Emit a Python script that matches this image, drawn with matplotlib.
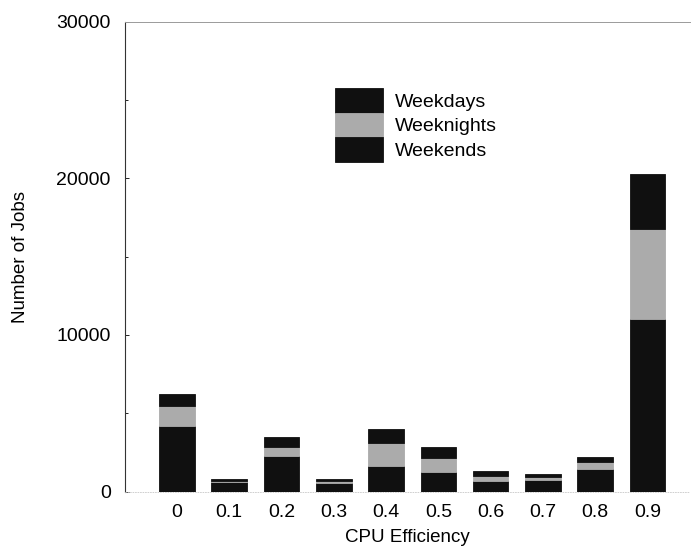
import matplotlib.pyplot as plt
from matplotlib.ticker import MultipleLocator
import numpy as np

plt.rcParams['font.family'] = ['Liberation Sans', 'DejaVu Sans']

# jobs per CPU-efficiency bucket, split by when they ran
efficiency = ['0', '0.1', '0.2', '0.3', '0.4', '0.5', '0.6', '0.7', '0.8', '0.9']
weekends = [4200, 600, 2270, 560, 1650, 1250, 690, 720, 1420, 11000]
weeknights = [1250, 60, 600, 140, 1470, 890, 300, 190, 450, 5760]
weekdays = [750, 130, 600, 120, 880, 710, 340, 210, 320, 3550]

dark = '#101010'
grey = '#ababab'

fig = plt.figure(figsize=(6.93, 5.46), dpi=100)
ax = fig.add_axes([0.180, 0.0998, 0.816, 0.860])

x = np.arange(len(efficiency))
w = 0.68
bottom2 = np.array(weekends)
bottom3 = bottom2 + np.array(weeknights)
b1 = ax.bar(x, weekends, w, color=dark, edgecolor=dark, linewidth=0.6, label='Weekends')
b2 = ax.bar(x, weeknights, w, bottom=bottom2, color=grey, edgecolor=grey, linewidth=0.6, label='Weeknights')
b3 = ax.bar(x, weekdays, w, bottom=bottom3, color=dark, edgecolor=dark, linewidth=0.6, label='Weekdays')

ax.set_xlim(-1.0, 9.82)
ax.set_ylim(0, 30000)
ax.set_xticks(x)
ax.set_xticklabels(efficiency, fontsize=14)
ax.set_yticks([0, 10000, 20000, 30000])
ax.yaxis.set_minor_locator(MultipleLocator(5000))
ax.tick_params(axis='y', labelsize=14, direction='in', length=3, width=0.6, pad=10)
ax.tick_params(axis='y', which='minor', direction='in', length=2, width=0.6)
ax.tick_params(axis='x', length=0, pad=9)

ax.set_xlabel('CPU Efficiency', fontsize=13.5, labelpad=6)
ax.set_ylabel('Number of Jobs', fontsize=13.5, labelpad=20)

ax.spines['right'].set_visible(False)
ax.spines['top'].set_color('#9a9a9a')
ax.spines['top'].set_linewidth(0.7)
ax.spines['left'].set_color('#333333')
ax.spines['left'].set_linewidth(0.8)
ax.spines['bottom'].set_color('#c8c8c8')
ax.spines['bottom'].set_linewidth(0.6)
ax.spines['bottom'].set_linestyle((0, (1, 2)))

ax.legend([b3, b2, b1], ['Weekdays', 'Weeknights', 'Weekends'],
          loc='upper left', bbox_to_anchor=(0.354, 0.879), frameon=False,
          fontsize=14, handlelength=2.5, handleheight=1.55, labelspacing=0.0,
          handletextpad=0.6, borderpad=0)

fig.savefig('out.png', dpi=100)
